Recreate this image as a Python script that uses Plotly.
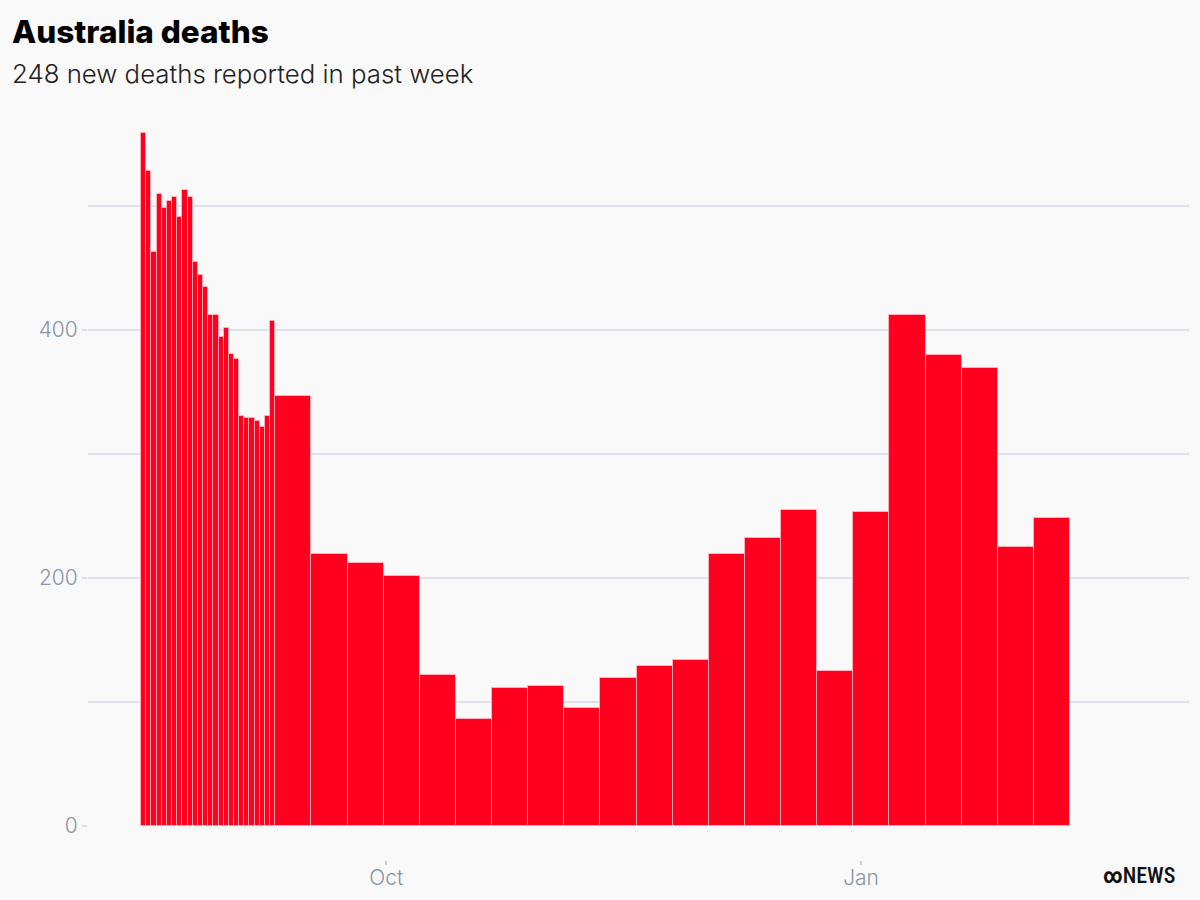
import pandas as pd
import plotly.graph_objects as go

# ---- data ----
daily_dates = [
    "2022-08-15", "2022-08-16", "2022-08-17", "2022-08-18", "2022-08-19", "2022-08-20",
    "2022-08-21", "2022-08-22", "2022-08-23", "2022-08-24", "2022-08-25", "2022-08-26",
    "2022-08-27", "2022-08-28", "2022-08-29", "2022-08-30", "2022-08-31", "2022-09-01",
    "2022-09-02", "2022-09-03", "2022-09-04", "2022-09-05", "2022-09-06", "2022-09-07",
    "2022-09-08", "2022-09-09",
]
daily_deaths = [
    559, 528, 463, 510, 498, 504, 507, 491, 513, 507, 455, 444, 435,
    412, 412, 394, 402, 381, 377, 331, 329, 329, 327, 322, 331, 407,
]
weekly_start = [
    "2022-09-10", "2022-09-17", "2022-09-24", "2022-10-01", "2022-10-08", "2022-10-15",
    "2022-10-22", "2022-10-29", "2022-11-05", "2022-11-12", "2022-11-19", "2022-11-26",
    "2022-12-03", "2022-12-10", "2022-12-17", "2022-12-24", "2022-12-31", "2023-01-07",
    "2023-01-14", "2023-01-21", "2023-01-28", "2023-02-04",
]
weekly_deaths = [
    347, 219, 212, 202, 122, 86, 111, 113, 95, 119, 129, 134,
    219, 232, 255, 125, 253, 412, 380, 369, 225, 248,
]
x_tick_vals = ["2022-10-01", "2023-01-01"]
x_tick_text = ["Oct", "Jan"]
y_tick_vals = [0, 200, 400]
y_tick_text = ["0", "200", "400"]

# ---- style ----
BG = "#f9f9f9"
RED = "#ff001e"
GRID = "#dde1e9"
TICKFONT = "#8a95a8"
BORDER = "rgba(255,190,200,0.75)"
DAY_MS = 24 * 3600 * 1000

W, H = 1200, 900
ML, MR, MT, MB = 88, 11, 110, 40
plot_h = H - MT - MB            # 750
zero_px = 826
y_dom0 = (H - MB - zero_px) / plot_h
px_per_unit = 1.24
y_top = (zero_px - MT) / px_per_unit

daily_x = pd.to_datetime(daily_dates)
weekly_x = pd.to_datetime(weekly_start) + pd.Timedelta(days=3)

fig = go.Figure()
fig.add_trace(go.Bar(
    x=daily_x, y=daily_deaths, width=[DAY_MS] * len(daily_deaths),
    marker=dict(color=RED, line=dict(color=BORDER, width=1)),
    hoverinfo="x+y", showlegend=False,
))
fig.add_trace(go.Bar(
    x=weekly_x, y=weekly_deaths, width=[7 * DAY_MS] * len(weekly_deaths),
    marker=dict(color=RED, line=dict(color=BORDER, width=1)),
    hoverinfo="x+y", showlegend=False,
))

fig.update_layout(
    width=W, height=H,
    margin=dict(l=ML, r=MR, t=MT, b=MB, pad=0, autoexpand=False),
    paper_bgcolor=BG, plot_bgcolor=BG,
    bargap=0,
    font=dict(family="Inter, Roboto, sans-serif"),
    xaxis=dict(
        type="date", automargin=False,
        range=["2022-08-04 05:00", "2023-03-05 13:00"],
        anchor="free", position=0,
        showgrid=False, showline=False, zeroline=False,
        tickvals=x_tick_vals, ticktext=x_tick_text,
        ticks="outside", ticklen=4, tickwidth=1.5, tickcolor="#c8d0dc",
        ticklabelstandoff=-5,
        tickfont=dict(size=21, color=TICKFONT, weight=300),
    ),
    yaxis=dict(
        domain=[y_dom0, 1], automargin=False,
        range=[0, y_top],
        showline=False, zeroline=False,
        tickvals=y_tick_vals, ticktext=y_tick_text,
        ticks="outside", ticklen=5, tickwidth=1.5, tickcolor=GRID,
        showgrid=True, gridcolor=GRID, gridwidth=1.5,
        tickfont=dict(size=21, color=TICKFONT, weight=300),
        minor=dict(dtick=100, tick0=0, showgrid=True, gridcolor=GRID, gridwidth=1.5, ticks=""),
    ),
)

pw = W - ML - MR


def px_x(x):
    return (x - ML) / pw


def px_y(y):
    return (H - MB - y) / plot_h


fig.add_annotation(
    text="Australia deaths", xref="paper", yref="paper",
    x=px_x(10), y=px_y(10), xanchor="left", yanchor="top", showarrow=False,
    font=dict(size=31.5, color="#000000", family="Inter, sans-serif", weight=800),
)
fig.add_annotation(
    text="248 new deaths reported in past week", xref="paper", yref="paper",
    x=px_x(10), y=px_y(56), xanchor="left", yanchor="top", showarrow=False,
    font=dict(size=25.8, color="#222222", family="Inter, sans-serif", weight=300),
)
fig.add_annotation(
    text="<b>∞</b>NEWS", xref="paper", yref="paper",
    x=px_x(1177), y=px_y(875), xanchor="right", yanchor="middle", showarrow=False,
    font=dict(size=22, color="#111111", family="Roboto Condensed, Roboto, sans-serif", weight=500),
)

fig.write_html("out.html")
